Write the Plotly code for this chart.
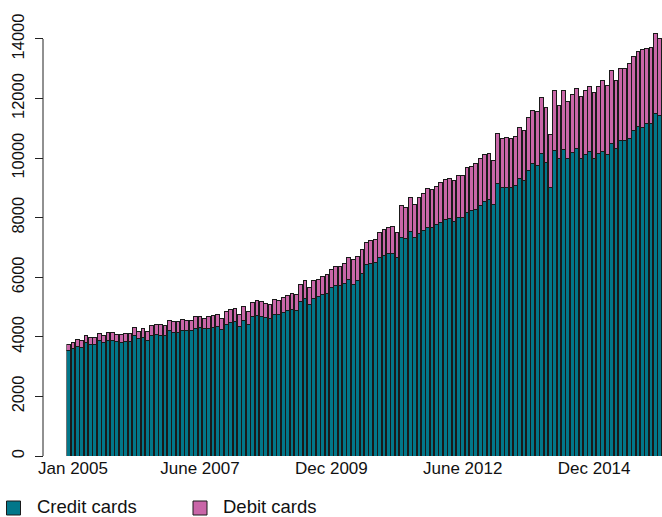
import pandas as pd
import plotly.graph_objects as go

# Monthly observations, Dec 2004 onward
months = pd.date_range("2004-12-01", periods=136, freq="MS").strftime("%Y-%m").tolist()

total = [
    3750, 3817, 3918, 3874, 4062, 3975, 3975, 4119, 4042, 4142,
    4142, 4085, 4085, 4119, 4119, 4331, 4196, 4287, 4175, 4377,
    4421, 4421, 4398, 4555, 4499, 4499, 4589, 4555, 4555, 4667,
    4700, 4623, 4667, 4723, 4746, 4633, 4847, 4915, 4958, 4757,
    5015, 4847, 5160, 5204, 5193, 5126, 5103, 5271, 5237, 5317,
    5405, 5472, 5438, 5764, 5888, 5653, 5908, 5942, 6022, 6110,
    6278, 6358, 6368, 6479, 6670, 6593, 6690, 6930, 7164, 7251,
    7285, 7510, 7610, 7688, 7721, 7510, 8406, 8359, 8695, 8450,
    8674, 8809, 8977, 8943, 9054, 9188, 9289, 9312, 9266, 9413,
    9423, 9702, 9735, 9816, 10004, 10117, 10172, 9926, 10843, 10655,
    10689, 10655, 10733, 11045, 10934, 11380, 11605, 11582, 12052, 11694,
    10789, 12266, 11762, 12266, 11896, 12142, 12343, 12086, 12287, 12400,
    12199, 12400, 12623, 12434, 12948, 12623, 13025, 13025, 13183, 13408,
    13575, 13663, 13686, 13731, 14200, 14032,
]

credit = [
    3558, 3615, 3693, 3649, 3817, 3760, 3760, 3874, 3807, 3884,
    3874, 3840, 3817, 3850, 3860, 4042, 3941, 3985, 3884, 4062,
    4085, 4062, 4029, 4209, 4142, 4142, 4220, 4197, 4197, 4297,
    4331, 4264, 4297, 4320, 4344, 4243, 4421, 4488, 4532, 4344,
    4566, 4421, 4679, 4713, 4679, 4656, 4633, 4757, 4734, 4824,
    4901, 4935, 4901, 5193, 5294, 5093, 5294, 5361, 5428, 5462,
    5653, 5720, 5720, 5798, 5942, 5774, 5888, 6133, 6435, 6459,
    6503, 6660, 6748, 6805, 6782, 6660, 7352, 7298, 7553, 7352,
    7476, 7577, 7688, 7688, 7768, 7855, 7946, 7957, 7889, 8023,
    8000, 8191, 8248, 8281, 8416, 8560, 8607, 8450, 9165, 9010,
    9010, 9030, 9077, 9312, 9255, 9591, 9816, 9769, 10152, 9849,
    9010, 10262, 10004, 10306, 10004, 10195, 10340, 10004, 10117, 10217,
    10004, 10172, 10239, 10138, 10508, 10320, 10598, 10598, 10675, 10924,
    11068, 11045, 11179, 11158, 11515, 11427,
]

debit = [t - c for t, c in zip(total, credit)]

series_names = ["Credit cards", "Debit cards"]
tick_months = ["2005-01", "2007-06", "2009-12", "2012-06", "2014-12"]
tick_labels = ["Jan 2005", "June 2007", "Dec 2009", "June 2012", "Dec 2014"]
y_ticks = [0, 2000, 4000, 6000, 8000, 10000, 12000, 14000]
y_tick_text = [str(v) for v in y_ticks]

TEAL = "#02778A"
PINK = "#C966A8"
EDGE = "#1a1a1a"
FONT = "Liberation Sans, Arial, sans-serif"

W, H = 662, 517
ML, MR, MT, MB = 43, 0, 16, 61
PW, PH = W - ML - MR, H - MT - MB


def px_x(px):
    return (px - ML) / PW


def px_y(py):
    return (H - MB - py) / PH


fig = go.Figure()
fig.add_trace(go.Bar(x=months, y=credit, name=series_names[0],
                     marker=dict(color=TEAL, line=dict(color=EDGE, width=1))))
fig.add_trace(go.Bar(x=months, y=debit, name=series_names[1],
                     marker=dict(color=PINK, line=dict(color=EDGE, width=1))))

# manual legend (swatches + labels) placed in the bottom margin
legend_items = [(series_names[0], TEAL, 6.5, 36), (series_names[1], PINK, 193, 222)]
shapes = [dict(type="line", xref="paper", yref="y", x0=0, x1=0,
               y0=y_ticks[0], y1=y_ticks[-1],
               line=dict(color="#222", width=1))]
annotations = []
for name, col, sx, tx in legend_items:
    shapes.append(dict(type="rect", xref="paper", yref="paper",
                       x0=px_x(sx), x1=px_x(sx + 14), y0=px_y(515), y1=px_y(501),
                       fillcolor=col, line=dict(color=EDGE, width=1)))
    annotations.append(dict(text=name, xref="paper", yref="paper",
                            x=px_x(tx), y=px_y(506.5), xanchor="left", yanchor="middle",
                            showarrow=False, borderpad=0,
                            font=dict(size=18.5, color="#111")))

fig.update_layout(
    width=W, height=H,
    margin=dict(l=ML, r=MR, t=MT, b=MB, autoexpand=False),
    barmode="stack", bargap=0.14,
    plot_bgcolor="white", paper_bgcolor="white",
    font=dict(family=FONT, size=17, color="#111"),
    xaxis=dict(domain=[0.0378, 1], type="category",
               categoryorder="array", categoryarray=months,
               range=[-0.5, len(months) - 0.5],
               tickmode="array", tickvals=tick_months, ticktext=tick_labels,
               ticks="", showgrid=False, showline=False, zeroline=False,
               tickfont=dict(size=17)),
    yaxis=dict(range=[0, 14772], anchor="free", position=0,
               tickmode="array", tickvals=y_ticks, ticktext=y_tick_text,
               ticks="outside", ticklen=8, tickwidth=1, tickcolor="#222",
               ticklabelstandoff=4,
               tickangle=-90, showgrid=False, showline=False, zeroline=False,
               tickfont=dict(size=16.5)),
    showlegend=False,
    shapes=shapes,
    annotations=annotations,
)

fig.write_html("out.html")
